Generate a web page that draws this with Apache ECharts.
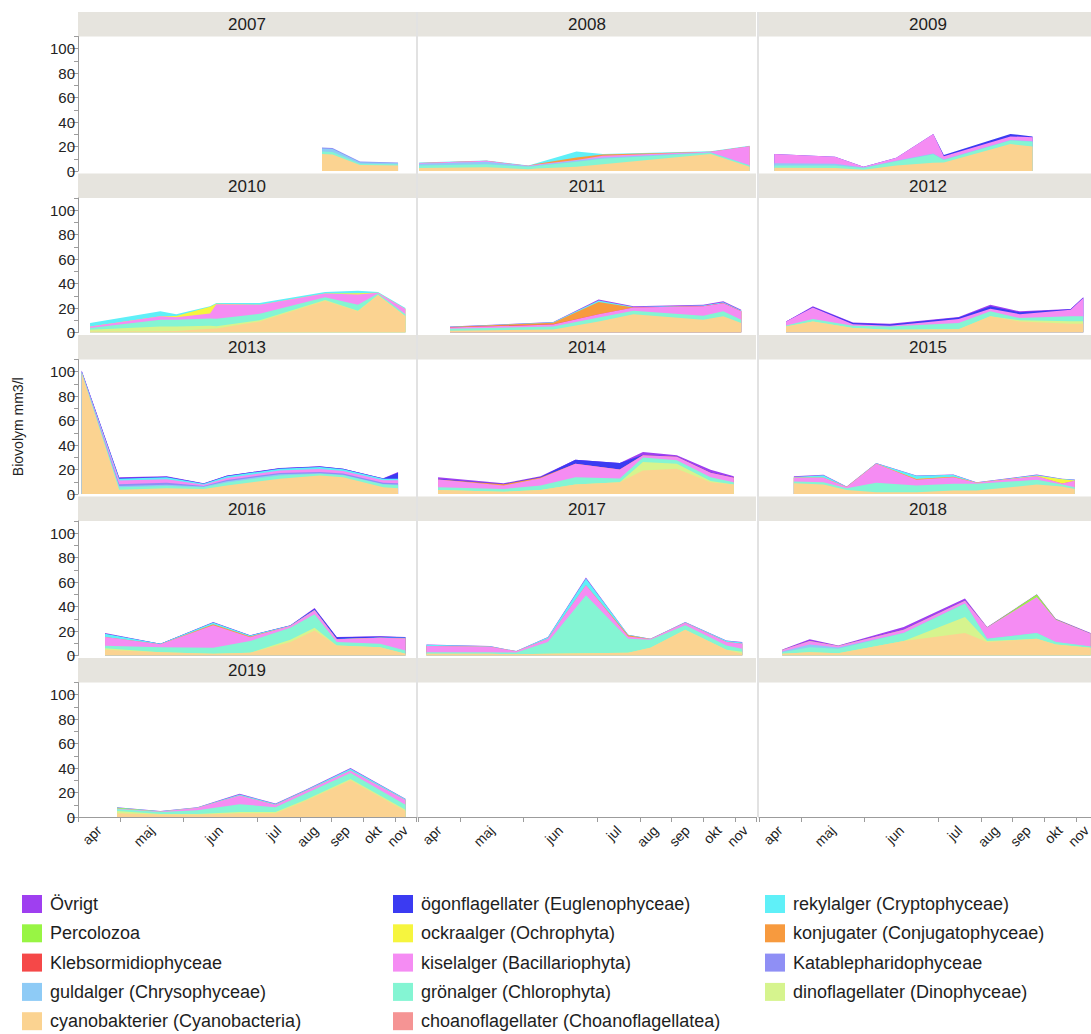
<!DOCTYPE html>
<html>
<head>
<meta charset="utf-8">
<script src="https://cdn.jsdelivr.net/npm/echarts@6/dist/echarts.min.js"></script>
<style>
  html, body { margin: 0; padding: 0; background: #ffffff; }
  #chart { width: 1091px; height: 1034px; }
</style>
</head>
<body>
<div id="chart"></div>
<script>
// ---- axis categories ----------------------------------------------------
// Sampling slots along the season, grouped by month (shared by all panels)
const months = ['apr', 'maj', 'jun', 'jul', 'aug', 'sep', 'okt', 'nov'];
const monthSlots = [4, 6, 7, 4, 3, 3, 3, 2];
const yTicks = [0, 20, 40, 60, 80, 100];
const yMinorTicks = [10, 30, 50, 70, 90, 110];
const years = [2007, 2008, 2009, 2010, 2011, 2012, 2013, 2014, 2015, 2016, 2017, 2018, 2019];

// Plankton groups, listed from the bottom of each stack to the top
const groupKeys = ['choano', 'cyano', 'dino', 'gron', 'guld', 'katab', 'kisel', 'klebs', 'konj', 'ockra', 'perco', 'rekyl', 'ogon', 'ovrigt'];
const groupNames = [
  'choanoflagellater (Choanoflagellatea)',
  'cyanobakterier (Cyanobacteria)',
  'dinoflagellater (Dinophyceae)',
  'grönalger (Chlorophyta)',
  'guldalger (Chrysophyceae)',
  'Katablepharidophyceae',
  'kiselalger (Bacillariophyta)',
  'Klebsormidiophyceae',
  'konjugater (Conjugatophyceae)',
  'ockraalger (Ochrophyta)',
  'Percolozoa',
  'rekylalger (Cryptophyceae)',
  'ögonflagellater (Euglenophyceae)',
  'Övrigt'
];

// ---- biovolume per sampling occasion (mm3/l) -----------------------------
const slot2007 = [23.1, 24.1, 26.7, 30.3];
const bio2007 = {
  cyano: [14, 13.5, 5, 4.5],
  gron:  [2, 2, 1, 1],
  guld:  [2.5, 2.5, 1.2, 1],
  katab: [0.8, 0.8, 0.5, 0.5]
};

const slot2008 = [0.1, 6.5, 10.45, 11.2, 15.0, 17.5, 27.7, 31.4];
const bio2008 = {
  cyano: [2.5, 3, 1.5, 2, 3.5, 5.5, 14, 3.5],
  gron:  [2, 2.5, 2, 2, 4, 4.5, 1, 1],
  guld:  [1.5, 2, 0.5, 0.8, 1, 1, 0.3, 0.3],
  kisel: [0.5, 0.8, 0.2, 0.5, 0.5, 1.5, 0.5, 15.5],
  konj:  [0, 0, 0, 0.5, 2, 1, 0, 0],
  rekyl: [0.5, 0.3, 0.2, 0.5, 5, 0.5, 0.3, 0.3]
};

const slot2009 = [1.45, 7.2, 9.9, 13.0, 16.5, 17.5, 23.8, 25.9];
const bio2009 = {
  cyano: [2.7, 2.5, 1, 4.4, 6.8, 7, 22, 20],
  gron:  [1.9, 2, 1.5, 3.5, 7, 2, 3, 4],
  guld:  [1.7, 1.5, 0.3, 0.5, 0.5, 0.5, 0.3, 0.3],
  kisel: [7.6, 5.7, 0.7, 2.5, 16, 2.5, 3, 3.4],
  ogon:  [0, 0, 0, 0, 0, 1, 2, 0.5]
};

const slot2010 = [1.14, 7.8, 9.3, 12.5, 13.1, 17.2, 23.4, 26.5, 28.4, 31.0];
const bio2010 = {
  cyano: [0.8, 1, 1.2, 3, 3.2, 9, 26, 17.3, 30.7, 13.2],
  dino:  [1.4, 4, 3.8, 2.5, 2, 1, 0.5, 0.5, 0, 0],
  gron:  [1.4, 5.4, 5.5, 6, 6, 5.3, 2.3, 4.9, 1.1, 1.8],
  kisel: [1.4, 2.8, 2, 4, 12, 7.4, 3, 8.3, 0.8, 4.2],
  ockra: [0, 0, 1, 5.5, 0.3, 0, 0, 1, 0, 0],
  rekyl: [2.7, 4.1, 1.5, 0.4, 0.6, 1.4, 1.4, 2.2, 0.6, 0.8]
};

const slot2011 = [3.03, 12.8, 17.1, 20.4, 27.0, 28.9, 30.6];
const bio2011 = {
  cyano:  [1.5, 2.5, 9, 15, 10.4, 13.2, 7.7],
  gron:   [1.5, 2.5, 3.3, 2.7, 3.3, 4.1, 2.7],
  kisel:  [1, 1.5, 2.7, 2.7, 7.7, 6.7, 6.9],
  klebs:  [0.3, 0.3, 0, 0, 0, 0, 0],
  konj:   [0.2, 1.2, 9.9, 0, 0, 0, 0],
  rekyl:  [0.2, 0.3, 1.2, 0.5, 0.6, 0.8, 0.6],
  ovrigt: [0.2, 0.2, 0.8, 0.5, 0.7, 0.7, 0.7]
};

const slot2012 = [2.56, 5.1, 8.9, 12.4, 18.9, 21.9, 24.7, 29.5, 30.7];
const bio2012 = {
  cyano:  [4.9, 9, 3.6, 2.2, 2.7, 13.2, 9, 7.1, 7.1],
  dino:   [0, 0, 0, 0, 0, 0, 1, 2, 2],
  gron:   [0.8, 2, 1.9, 2.7, 5, 4.1, 1.8, 4.1, 4.1],
  kisel:  [3.3, 9.5, 1.2, 0.7, 3.3, 2.2, 3.2, 5.4, 15],
  ogon:   [0, 0.4, 1, 1, 1.2, 2, 1.5, 0.4, 0.4],
  ovrigt: [0, 0.5, 0.5, 0.5, 0.4, 1.2, 0.8, 0.2, 0.2]
};

const slot2013 = [0.35, 3.9, 8.4, 11.9, 14.1, 19.1, 22.9, 25.1, 28.9, 30.3];
const bio2013 = {
  cyano:  [99, 3.5, 4.7, 4.1, 7, 12.4, 15.2, 13.8, 5.5, 4.7],
  gron:   [0.5, 2, 1.9, 1.5, 2.5, 2.8, 1.3, 1.5, 2.2, 2.5],
  guld:   [0, 1, 1, 0.5, 1, 1, 0.5, 0.5, 0.5, 0.5],
  katab:  [0.5, 1.5, 1.5, 0.5, 1, 1, 1, 1, 1, 1],
  kisel:  [0, 3, 3, 1, 1.5, 2, 2.5, 2, 2, 2.5],
  rekyl:  [0, 1.5, 1.5, 0.7, 1.5, 1.5, 1.6, 1.5, 1.2, 1.2],
  ogon:   [0.5, 0.5, 0.5, 0.3, 0.5, 0.3, 0.3, 0.3, 0.3, 5],
  ovrigt: [0.5, 0.8, 0.5, 0.2, 0.2, 0.2, 0.2, 0.1, 0.2, 0.5]
};

const slot2014 = [1.9, 8.1, 11.6, 14.9, 19.1, 21.3, 24.5, 27.7, 29.9];
const bio2014 = {
  cyano:  [3.3, 1.9, 3.3, 7.7, 9.6, 19.3, 20.7, 9.6, 7.7],
  dino:   [0, 0, 0, 0, 0, 6.9, 4.1, 1, 0],
  gron:   [2.2, 2.2, 3.6, 6, 3, 3.6, 2.8, 3.2, 1.9],
  kisel:  [6.3, 2.8, 6, 11, 7.4, 1.9, 2.8, 3.6, 3.6],
  konj:   [0, 1, 0.5, 0, 0, 0, 0, 0, 0],
  ogon:   [0.5, 0.3, 0.5, 3.4, 5.3, 0.2, 0.2, 0.2, 0.2],
  ovrigt: [1.5, 0.6, 0.7, 0, 0, 2.5, 1.1, 2.2, 1.2]
};

const slot2015 = [3.3, 6.1, 8.3, 11.1, 14.9, 18.4, 20.6, 26.3, 28.7, 29.9];
const bio2015 = {
  cyano:  [8.8, 7.7, 3.3, 1.4, 1.4, 2.8, 2.8, 7.7, 6.1, 4.1],
  gron:   [1.4, 1.9, 1.4, 7.7, 5.5, 5.5, 5.5, 3.9, 1.6, 1.5],
  kisel:  [3, 3.6, 1, 15.7, 4.7, 5.5, 0.8, 3, 0.8, 5.2],
  konj:   [0, 0, 0, 0, 0.6, 0.4, 0, 0, 0, 0],
  ockra:  [0, 0, 0, 0, 0, 0, 0, 0.3, 3.5, 0.3],
  rekyl:  [0.8, 2.2, 0.2, 0.3, 2.7, 1.6, 0.3, 0.6, 0.3, 0.5],
  ovrigt: [0.6, 0.3, 0.2, 0.2, 0.3, 0.2, 0.2, 0.5, 0.2, 0.2]
};

const slot2016 = [2.56, 7.8, 12.8, 16.3, 20.1, 22.4, 24.5, 28.6, 31.0];
const bio2016 = {
  cyano:  [4.7, 2.7, 1.4, 2.2, 11, 20.5, 8.2, 6.8, 1.4],
  dino:   [1.2, 0, 0, 0, 1.9, 2.2, 0, 0, 0],
  gron:   [2, 4.1, 4.9, 9.6, 9.8, 11, 2.8, 2.8, 2.7],
  kisel:  [7.2, 2.5, 18.4, 3.2, 1.4, 3.3, 2.2, 4.9, 9.9],
  konj:   [0, 0, 0.8, 0.5, 0, 0, 0, 0, 0],
  rekyl:  [2.7, 0.3, 1.5, 0.8, 0.4, 0.5, 0.3, 0.3, 0.6],
  ogon:   [0, 0, 0, 0, 0, 0.8, 1.5, 0.8, 0.3],
  ovrigt: [0.6, 0, 0.4, 0.2, 0.2, 0.6, 0.1, 0.2, 0.2]
};

const slot2017 = [0.8, 6.8, 9.3, 12.3, 15.9, 19.9, 22.0, 25.3, 29.2, 30.7];
const bio2017 = {
  cyano:  [1.4, 1.4, 1, 1.4, 1.9, 2.2, 6.3, 21.1, 4.7, 1.4],
  dino:   [0, 0, 0, 0, 0, 0, 0, 0, 0, 1.6],
  gron:   [1.3, 1.3, 1.5, 9.6, 47.4, 11.5, 6.6, 3.6, 3.5, 2.5],
  kisel:  [5, 4.5, 1, 2.7, 8.2, 1.9, 0.5, 2, 2.8, 4.1],
  konj:   [0, 0, 0, 0, 0, 1, 0, 0, 0, 0],
  rekyl:  [1, 0.4, 0.1, 1.2, 5.5, 0.3, 0.2, 0.5, 1, 1],
  ovrigt: [0.3, 0.1, 0, 0.2, 0.8, 0.1, 0.1, 0.2, 0.3, 0.4]
};

const slot2018 = [2.2, 4.8, 7.5, 13.7, 19.5, 21.6, 26.3, 28.1, 31.4];
const bio2018 = {
  cyano:  [1.4, 2.7, 1.9, 11.8, 18.4, 11, 13.7, 9, 6.3],
  dino:   [0, 0, 0, 0, 13.1, 0.8, 0, 0, 0],
  gron:   [1.3, 4.1, 3.6, 6.6, 11, 1.9, 4.7, 2, 1.1],
  guld:   [0.5, 2.2, 1, 0, 0, 0, 0, 0, 0],
  kisel:  [1.2, 2.8, 1.2, 2.7, 2.2, 9.3, 29.5, 18.3, 10.4],
  perco:  [0, 0, 0, 0, 0, 0, 2, 0.3, 0],
  ovrigt: [0.5, 1.4, 0.5, 2.2, 1.9, 0.3, 0.2, 0.5, 0.6]
};

const slot2019 = [3.7, 7.8, 11.3, 15.3, 18.7, 21.5, 25.8, 31.0];
const bio2019 = {
  cyano:  [3, 2, 2, 3, 3, 13, 30, 5],
  dino:   [2, 0.5, 0.5, 1, 1, 1, 1, 1],
  gron:   [1.5, 1.5, 3, 6.5, 4, 5, 5, 4],
  kisel:  [0.5, 0.5, 2, 7, 2, 2, 2, 4],
  perco:  [0.5, 0, 0, 0, 0, 0, 0, 0],
  rekyl:  [0.3, 0.3, 0.3, 1, 0.7, 0.7, 1.5, 0.7],
  ovrigt: [0.2, 0.2, 0.2, 0.5, 0.3, 0.3, 0.5, 0.3]
};

const yearTable = [
  [2007, slot2007, bio2007], [2008, slot2008, bio2008], [2009, slot2009, bio2009],
  [2010, slot2010, bio2010], [2011, slot2011, bio2011], [2012, slot2012, bio2012],
  [2013, slot2013, bio2013], [2014, slot2014, bio2014], [2015, slot2015, bio2015],
  [2016, slot2016, bio2016], [2017, slot2017, bio2017], [2018, slot2018, bio2018],
  [2019, slot2019, bio2019]
];

// ---- styling ---------------------------------------------------------------
const groupColors = {
  choano: '#f59494', cyano: '#fbd391', dino: '#d6f48e', gron: '#84f5d3',
  guld: '#8ecbf6', katab: '#8f8ff5', kisel: '#f58cf3', klebs: '#f54848',
  konj: '#f79a3e', ockra: '#f6f53e', perco: '#98f544', rekyl: '#5ff0f8',
  ogon: '#3b3bf2', ovrigt: '#9f3ff0'
};
const FONT = '"Liberation Sans", Arial, Helvetica, sans-serif';
const COL_LEFT = [78, 418, 759];
const COL_W = 338;
const HEAD_TOP = 12;
const ROW_STEP = 161.5;
const HEAD_H = 24.5;
const PLOT_H = 134.5;
const AXIS_GRAY = '#9c9c9c';
const STRIP = '#e6e4de';

// month boundaries and centres on the slot axis
const monthBounds = [0];
monthSlots.forEach(n => monthBounds.push(monthBounds[monthBounds.length - 1] + n));
const monthCenters = months.map((m, i) => (monthBounds[i] + monthBounds[i + 1]) / 2);
const slotMax = monthBounds[monthBounds.length - 1];

const option = {
  animation: false,
  backgroundColor: '#ffffff',
  textStyle: { fontFamily: FONT },
  grid: [], xAxis: [], yAxis: [], series: [], legend: [], graphic: []
};

const NPANEL = 15;
for (let p = 0; p < NPANEL; p++) {
  const r = Math.floor(p / 3), c = p % 3;
  const top = HEAD_TOP + r * ROW_STEP + HEAD_H;
  const bottomRow = r === 4;
  option.grid.push({ left: COL_LEFT[c], top: top, width: COL_W, height: PLOT_H, outerBoundsMode: 'none' });
  option.xAxis.push({
    type: 'value', gridIndex: p, min: 0, max: slotMax,
    axisLine: { show: bottomRow, lineStyle: { color: AXIS_GRAY, width: 1 } },
    axisTick: { show: bottomRow, customValues: monthBounds, length: 5, lineStyle: { color: AXIS_GRAY } },
    axisLabel: {
      show: bottomRow, customValues: monthCenters, rotate: 45, margin: 11,
      fontSize: 14, color: '#222', fontFamily: FONT,
      formatter: v => { const i = monthCenters.indexOf(v); return i >= 0 ? months[i] : ''; }
    },
    splitLine: { show: false }
  });
  const yAx = {
    type: 'value', gridIndex: p, min: 0, max: 110, position: 'left',
    axisLine: { show: c === 0, lineStyle: { color: AXIS_GRAY, width: 1 } },
    axisTick: { show: c === 0, customValues: yTicks, length: 8, lineStyle: { color: AXIS_GRAY } },
    axisLabel: { show: c === 0, customValues: yTicks, fontSize: 15, color: '#222', margin: 3, fontFamily: FONT },
    splitLine: { show: false }
  };
  if (p === 6) {
    yAx.name = 'Biovolym mm3/l';
    yAx.nameLocation = 'middle';
    yAx.nameRotate = 90;
    yAx.nameGap = 53;
    yAx.nameTextStyle = { fontSize: 14, color: '#222', fontFamily: FONT };
  }
  option.yAxis.push(yAx);

  // header strip with year
  option.graphic.push({
    type: 'rect', silent: true,
    shape: { x: COL_LEFT[c], y: HEAD_TOP + r * ROW_STEP, width: c === 2 ? 1091 - COL_LEFT[c] : COL_W, height: HEAD_H },
    style: { fill: STRIP }
  });
  if (p < years.length) {
    option.graphic.push({
      type: 'text', silent: true,
      x: COL_LEFT[c] + COL_W / 2, y: HEAD_TOP + r * ROW_STEP + HEAD_H / 2 + 0.5,
      style: { text: String(years[p]), fill: '#1e1e1e', font: '17px ' + FONT, align: 'center', verticalAlign: 'middle' }
    });
  }
}

// minor ticks on the left axes
for (let r = 0; r < 5; r++) {
  option.yAxis.push({
    type: 'value', gridIndex: r * 3, min: 0, max: 110, position: 'left',
    axisLine: { show: false },
    axisTick: { show: true, customValues: yMinorTicks, length: 4, lineStyle: { color: AXIS_GRAY } },
    axisLabel: { show: false },
    splitLine: { show: false }
  });
}

// panel separators
[417, 758].forEach(x => {
  option.graphic.push({
    type: 'line', silent: true,
    shape: { x1: x, y1: HEAD_TOP, x2: x, y2: HEAD_TOP + 4 * ROW_STEP + HEAD_H + PLOT_H },
    style: { stroke: '#e2e2e2', lineWidth: 2 }
  });
});

// Stacked areas, one stack per year. Each layer is drawn at its cumulative
// height and filled down to zero; layers are added top-first so that every
// lower layer paints over the one above it, leaving visible bands.
const used = new Set();
yearTable.forEach(([year, slots, bio]) => {
  const p = years.indexOf(year);
  const running = slots.map(() => 0);
  const layers = [];
  groupKeys.forEach((key, gi) => {
    const vals = bio[key];
    if (!vals) return;
    used.add(key);
    const cum = running.map((v, i) => v + vals[i]);
    cum.forEach((v, i) => { running[i] = v; });
    layers.push({ key, gi, cum });
  });
  layers.reverse().forEach(({ key, gi, cum }) => {
    option.series.push({
      type: 'line', name: groupNames[gi],
      xAxisIndex: p, yAxisIndex: p,
      data: slots.map((x, i) => [x, +cum[i].toFixed(3)]),
      symbol: 'none', silent: true,
      lineStyle: { width: 0 },
      itemStyle: { color: groupColors[key] },
      areaStyle: { color: groupColors[key], opacity: 1 }
    });
  });
});
// groups without drawn values still appear in the legend
groupKeys.forEach((key, gi) => {
  if (used.has(key)) return;
  option.series.push({
    type: 'line', name: groupNames[gi], xAxisIndex: 0, yAxisIndex: 0, data: [],
    symbol: 'none', itemStyle: { color: groupColors[key] }, areaStyle: { color: groupColors[key] }
  });
});

// legend: three columns, top of stack first
const legendOrder = groupNames.slice().reverse();
const legendLeft = [17, 388, 760];
for (let c = 0; c < 3; c++) {
  option.legend.push({
    orient: 'vertical', left: legendLeft[c], top: 890, height: 160,
    data: legendOrder.filter((n, i) => i % 3 === c),
    icon: 'rect', itemWidth: 20, itemHeight: 18, itemGap: 11.3,
    selectedMode: false,
    textStyle: { fontSize: 18, color: '#1e1e1e', fontFamily: FONT, padding: [0, 0, 0, 3] }
  });
}

const chart = echarts.init(document.getElementById('chart'), null, { renderer: 'svg' });
chart.setOption(option);
</script>
</body>
</html>
